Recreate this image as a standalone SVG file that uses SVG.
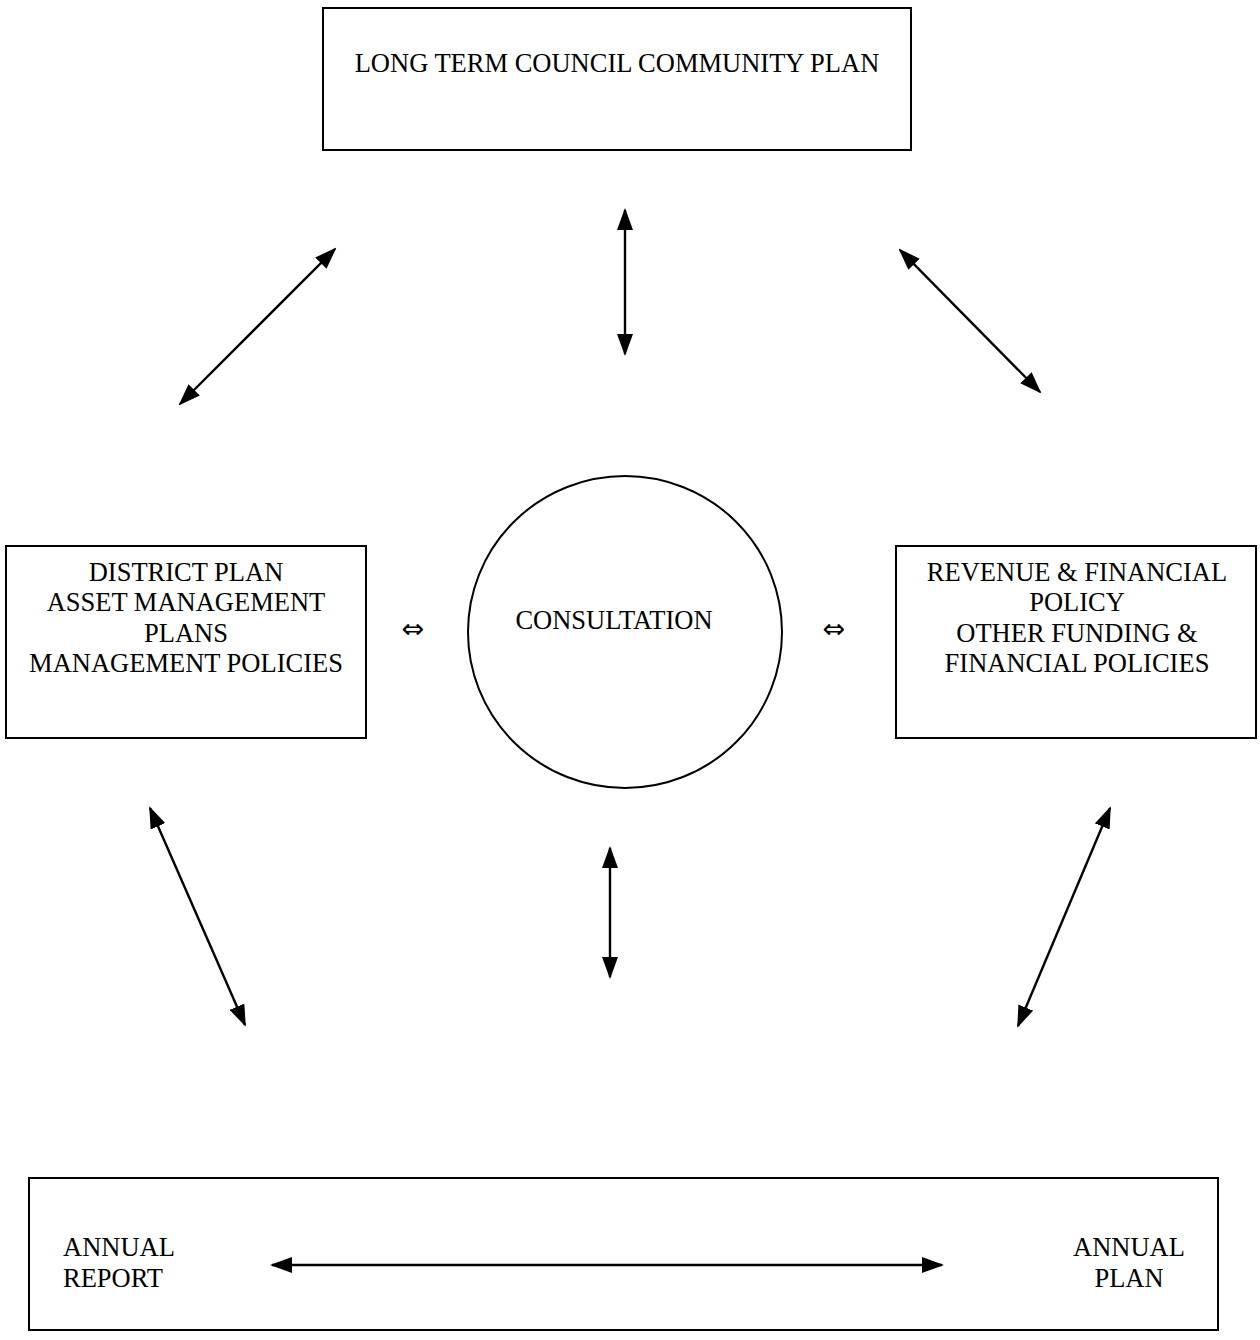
<svg xmlns="http://www.w3.org/2000/svg" width="1260" height="1340" viewBox="0 0 1260 1340">
<style>
.box{fill:#fff;stroke:#000;stroke-width:2}
.t{font-family:"Liberation Serif","Times New Roman",serif;font-size:26.5px;fill:#000}
.c{text-anchor:middle}
.sym{font-family:"DejaVu Sans",sans-serif;font-size:27px;fill:#000;text-anchor:middle}
.conn line{stroke:#000;stroke-width:2.4;marker-start:url(#ah);marker-end:url(#ah)}
</style>
<defs>
<marker id="ah" viewBox="0 0 22 16" refX="20" refY="8" markerWidth="22" markerHeight="16" markerUnits="userSpaceOnUse" orient="auto-start-reverse">
<path d="M0,0 L22,8 L0,16 Z" fill="#000"/>
</marker>
</defs>
<rect width="1260" height="1340" fill="#fff"/>
<g id="ltccp">
<rect class="box" x="323" y="8" width="588" height="142"/>
<text class="t c" x="617" y="72">LONG TERM COUNCIL COMMUNITY PLAN</text>
</g>
<g id="district">
<rect class="box" x="6" y="546" width="360" height="192"/>
<text class="t c" x="186" y="581">DISTRICT PLAN</text>
<text class="t c" x="186" y="611">ASSET MANAGEMENT</text>
<text class="t c" x="186" y="642">PLANS</text>
<text class="t c" x="186" y="672">MANAGEMENT POLICIES</text>
</g>
<g id="consultation">
<ellipse class="box" cx="625" cy="632" rx="157" ry="156"/>
<text class="t c" x="614" y="629">CONSULTATION</text>
</g>
<g id="revenue">
<rect class="box" x="896" y="546" width="360" height="192"/>
<text class="t c" x="1077" y="581">REVENUE &amp; FINANCIAL</text>
<text class="t c" x="1077" y="611">POLICY</text>
<text class="t c" x="1077" y="642">OTHER FUNDING &amp;</text>
<text class="t c" x="1077" y="672">FINANCIAL POLICIES</text>
</g>
<g id="annual">
<rect class="box" x="29" y="1178" width="1189" height="152"/>
<text class="t" x="63" y="1256">ANNUAL</text>
<text class="t" x="63" y="1287">REPORT</text>
<text class="t c" x="1129" y="1256">ANNUAL</text>
<text class="t c" x="1129" y="1287">PLAN</text>
</g>
<g id="symbols">
<text class="sym" x="413" y="638">⇔</text>
<text class="sym" x="834" y="638">⇔</text>
</g>
<g id="connectors" class="conn">
<line x1="180" y1="404" x2="335" y2="249"/>
<line x1="625" y1="210" x2="625" y2="354"/>
<line x1="900" y1="250" x2="1040" y2="392"/>
<line x1="150" y1="808" x2="245" y2="1025"/>
<line x1="610" y1="848" x2="610" y2="977"/>
<line x1="1110" y1="808" x2="1018" y2="1026"/>
<line x1="272" y1="1265" x2="942" y2="1265"/>
</g>
</svg>
